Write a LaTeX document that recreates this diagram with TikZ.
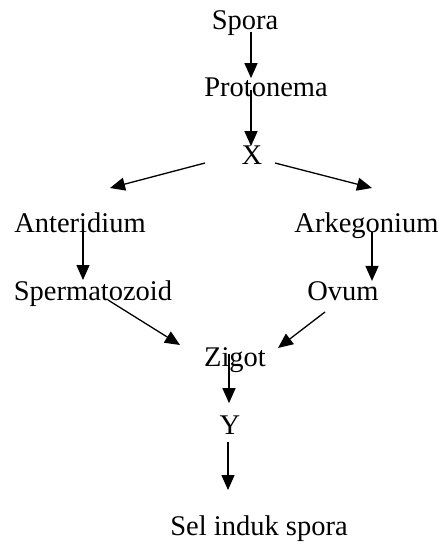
\documentclass[tikz,border=0pt]{standalone}
\usepackage{fontspec}
\setmainfont{Liberation Serif}
\usetikzlibrary{arrows.meta}
\begin{document}
\begin{tikzpicture}[x=1pt,y=-1pt,
  lbl/.style={inner sep=0pt,anchor=base,font=\fontsize{28.5}{34}\selectfont},
  arr/.style={line width=1.3pt,-{Triangle[length=15pt,width=13pt]}}]
\useasboundingbox (0,0) rectangle (446,545);
\node[lbl] (spora) at (245,30) {Spora};
\node[lbl] (proton) at (266,97) {Protonema};
\node[lbl] (X) at (252,165) {X};
\node[lbl] (ant) at (80,232) {Anteridium};
\node[lbl] (ark) at (366.5,232) {Arkegonium};
\node[lbl] (sperm) at (93,300) {Spermatozoid};
\node[lbl] (ovum) at (343,300) {Ovum};
\node[lbl] (zigot) at (235,366) {Zigot};
\node[lbl] (Y) at (230,434) {Y};
\node[lbl] (sel) at (259,535) {Sel induk spora};
\draw[arr] ([xshift=6pt,yshift=-2pt]spora.base) -- ([xshift=-15pt]proton.north);
\draw[arr] ([xshift=-15pt,yshift=7pt]proton.base) -- ([xshift=-1pt]X.north);
\draw[arr] ([xshift=-47pt,yshift=2pt]X.base) -- ([xshift=30pt,yshift=44pt]ant.base);
\draw[arr] ([xshift=23pt,yshift=2pt]X.base) -- ([xshift=5.5pt,yshift=44pt]ark.base);
\draw[arr] ([xshift=3pt]ant.base) -- ([xshift=-10pt]sperm.north);
\draw[arr] ([xshift=5.5pt]ark.base) -- ([xshift=29pt]ovum.north);
\draw[arr] ([xshift=15pt]sperm.base) -- ([xshift=-55pt,yshift=21pt]zigot.base);
\draw[arr] ([xshift=-18pt,yshift=-12pt]ovum.base) -- ([xshift=43pt,yshift=18pt]zigot.base);
\draw[arr] ([xshift=-6pt,yshift=12pt]zigot.base) -- ([xshift=-1pt,yshift=12pt]Y.north);
\draw[arr] ([xshift=-2pt,yshift=-8pt]Y.base) -- ([xshift=-31pt,yshift=25pt]sel.north);
\end{tikzpicture}
\end{document}
